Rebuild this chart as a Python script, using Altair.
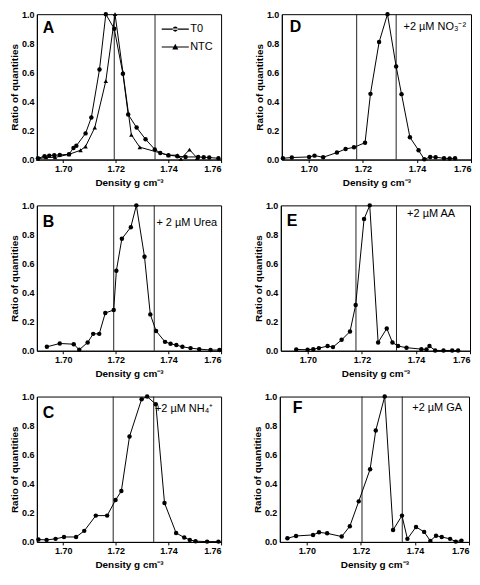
import altair as alt
import pandas as pd

# ---------------- data ----------------
X_DOMAIN = [1.69, 1.76]
X_TICKS = [1.70, 1.72, 1.74, 1.76]
Y_TICKS = [0.0, 0.2, 0.4, 0.6, 0.8, 1.0]

A_T0_X = [1.6904, 1.6929, 1.6947, 1.6966, 1.6987, 1.7022, 1.7039, 1.7050, 1.7085, 1.7107, 1.7138, 1.7162, 1.7194,
          1.7227, 1.7247, 1.7279, 1.7313, 1.7348, 1.7369, 1.7400, 1.7434, 1.7465, 1.7513, 1.7534, 1.7555, 1.7590]
A_T0_Y = [0.009, 0.023, 0.027, 0.030, 0.032, 0.036, 0.080, 0.095, 0.180, 0.290, 0.620, 1.000, 0.900,
          0.590, 0.310, 0.220, 0.140, 0.070, 0.045, 0.030, 0.023, 0.018, 0.018, 0.016, 0.014, 0.009]
A_NTC_X = [1.6904, 1.6935, 1.6969, 1.7022, 1.7066, 1.7085, 1.7120, 1.7162, 1.7197, 1.7227, 1.7259, 1.7291,
           1.7400, 1.7434, 1.7447, 1.7480, 1.7509]
A_NTC_Y = [0.005, 0.015, 0.015, 0.036, 0.064, 0.090, 0.220, 0.540, 1.000, 0.600, 0.170, 0.085,
           0.030, 0.030, 0.005, 0.068, 0.011]

B_X = [1.6938, 1.6987, 1.7040, 1.7061, 1.7093, 1.7114, 1.7137, 1.7160, 1.7192, 1.7202, 1.7223, 1.7257, 1.7278,
       1.7309, 1.7331, 1.7353, 1.7387, 1.7408, 1.7430, 1.7453, 1.7484, 1.7517, 1.7560, 1.7594]
B_Y = [0.027, 0.050, 0.045, 0.007, 0.057, 0.116, 0.116, 0.260, 0.280, 0.550, 0.770, 0.850, 1.000,
       0.646, 0.250, 0.136, 0.061, 0.048, 0.039, 0.027, 0.018, 0.011, 0.005, 0.005]

C_X = [1.6906, 1.6937, 1.6971, 1.7003, 1.7049, 1.7080, 1.7124, 1.7167, 1.7199, 1.7221, 1.7252, 1.7298, 1.7319,
       1.7352, 1.7385, 1.7429, 1.7460, 1.7481, 1.7503, 1.7547, 1.7590]
C_Y = [0.016, 0.014, 0.021, 0.034, 0.034, 0.076, 0.181, 0.181, 0.288, 0.350, 0.725, 0.982, 1.000,
       0.947, 0.268, 0.062, 0.030, 0.014, 0.005, 0.002, 0.002]

D_X = [1.6904, 1.6937, 1.7001, 1.7021, 1.7053, 1.7104, 1.7136, 1.7167, 1.7208, 1.7228, 1.7260, 1.7291, 1.7323,
       1.7343, 1.7374, 1.7406, 1.7427, 1.7449, 1.7469, 1.7500, 1.7521, 1.7541]
D_Y = [0.009, 0.014, 0.018, 0.027, 0.016, 0.048, 0.073, 0.084, 0.116, 0.452, 0.808, 1.000, 0.640,
       0.450, 0.153, 0.064, 0.002, 0.018, 0.016, 0.009, 0.007, 0.009]

E_X = [1.6957, 1.6999, 1.7020, 1.7041, 1.7073, 1.7093, 1.7125, 1.7156, 1.7177, 1.7208, 1.7229, 1.7260, 1.7292,
       1.7313, 1.7334, 1.7365, 1.7420, 1.7439, 1.7450, 1.7471, 1.7502, 1.7534, 1.7556]
E_Y = [0.009, 0.007, 0.011, 0.018, 0.032, 0.025, 0.075, 0.132, 0.315, 0.906, 1.000, 0.057, 0.153,
       0.057, 0.032, 0.021, 0.011, 0.009, 0.032, 0.002, 0.002, 0.002, 0.002]

F_X = [1.6928, 1.6960, 1.7023, 1.7045, 1.7075, 1.7129, 1.7159, 1.7192, 1.7234, 1.7255, 1.7288, 1.7319, 1.7352,
       1.7372, 1.7404, 1.7434, 1.7457, 1.7478, 1.7499, 1.7530, 1.7551, 1.7572]
F_Y = [0.025, 0.041, 0.048, 0.066, 0.059, 0.037, 0.108, 0.279, 0.500, 0.767, 1.000, 0.082, 0.181,
       0.021, 0.103, 0.069, 0.007, 0.043, 0.034, 0.021, 0.002, 0.009]

# density boundary lines drawn in each panel
LINES = {"A": [1.7194, 1.7349], "B": [1.7192, 1.7346], "C": [1.7190, 1.7344],
         "D": [1.7177, 1.7323], "E": [1.7178, 1.7328], "F": [1.7204, 1.7353]}
NOTES = {"A": "", "B": "+ 2 µM Urea", "C": "+2 µM NH₄⁺", "D": "+2 µM NO₃⁻²",
         "E": "+2 µM AA", "F": "+2 µM GA"}
SERIES = ["T0", "NTC"]

# ---------------- styling ----------------
FONT = "Liberation Sans"
LEFT_W, RIGHT_W, H = 185, 190, 146

# note placement (gap from right edge, baseline) and letter placement (x, baseline)
NOTE_POS = {"A": (0, 0), "B": (4, 21), "C": (8, 16), "D": (5, 16), "E": (15, 12), "F": (7, 15)}
LETTER_POS = {"A": (6, 19), "B": (6, 22), "C": (6, 22), "D": (8, 18), "E": (6, 21), "F": (13, 17)}

# legend symbols: a line segment with the marker in its middle (unit = 8 px)
CIRCLE_PATH = ("M-1.7,-0.07H1.7V0.07H-1.7Z"
               "M-0.32,0A0.32,0.32 0 1,0 0.32,0A0.32,0.32 0 1,0 -0.32,0Z")
TRI_PATH = "M-1.7,-0.07H1.7V0.07H-1.7ZM0,-0.42L0.38,0.3H-0.38Z"


def make_df(xs, ys, series):
    return pd.DataFrame({"density": xs, "ratio": ys, "series": series})


def panel(letter, df, width):
    x = alt.X("density:Q",
              scale=alt.Scale(domain=X_DOMAIN, nice=False, zero=False),
              axis=alt.Axis(values=X_TICKS, format=".2f", title="Density g cm⁻³"))
    y = alt.Y("ratio:Q",
              scale=alt.Scale(domain=[0, 1], nice=False),
              axis=alt.Axis(values=Y_TICKS, format=".1f", title="Ratio of quantities"))
    base = alt.Chart(df)
    line = base.mark_line(color="black", strokeWidth=1).encode(x=x, y=y, detail="series:N")
    pts = base.mark_point(filled=True, color="black", size=20, opacity=1).encode(
        x=x, y=y,
        shape=alt.Shape("series:N",
                        scale=alt.Scale(domain=SERIES, range=["circle", "triangle-up"]),
                        legend=None))
    rules = alt.Chart(pd.DataFrame({"density": LINES[letter]})).mark_rule(
        color="#222222", strokeWidth=1).encode(x=alt.X("density:Q"))
    lx, ly = LETTER_POS[letter]
    let = alt.Chart(pd.DataFrame({"t": [letter]})).mark_text(
        align="left", baseline="alphabetic", fontSize=16, fontWeight="bold", font=FONT
    ).encode(text="t:N", x=alt.value(lx), y=alt.value(ly))
    layers = [rules, line, pts, let]
    if NOTES[letter]:
        gap, ny = NOTE_POS[letter]
        note = alt.Chart(pd.DataFrame({"t": [NOTES[letter]]})).mark_text(
            align="right", baseline="alphabetic", fontSize=11, font=FONT
        ).encode(text="t:N", x=alt.value(width - gap), y=alt.value(ny))
        layers.append(note)
    if letter == "A":
        leg = base.mark_point(opacity=0, filled=True, color="black").encode(
            x=x, y=y,
            shape=alt.Shape("series:N",
                            scale=alt.Scale(domain=SERIES, range=[CIRCLE_PATH, TRI_PATH]),
                            legend=alt.Legend(title=None, orient="none", legendX=131, legendY=7,
                                              symbolSize=256, symbolFillColor="black",
                                              symbolStrokeColor="black", symbolStrokeWidth=0,
                                              symbolOpacity=1, labelFontSize=11, labelFont=FONT,
                                              labelColor="black", labelOffset=7, rowPadding=5)))
        layers.append(leg)
    ch = alt.layer(*layers).properties(width=width, height=H)
    if letter == "A":
        ch = ch.resolve_scale(shape="independent")
    return ch


dfA = pd.concat([make_df(A_T0_X, A_T0_Y, "T0"), make_df(A_NTC_X, A_NTC_Y, "NTC")])
pA = panel("A", dfA, LEFT_W)
pB = panel("B", make_df(B_X, B_Y, "T0"), LEFT_W)
pC = panel("C", make_df(C_X, C_Y, "T0"), LEFT_W)
pD = panel("D", make_df(D_X, D_Y, "T0"), RIGHT_W)
pE = panel("E", make_df(E_X, E_Y, "T0"), RIGHT_W)
pF = panel("F", make_df(F_X, F_Y, "T0"), RIGHT_W)

chart = alt.vconcat(
    alt.hconcat(pA, pD, spacing=29),
    alt.hconcat(pB, pE, spacing=29),
    alt.hconcat(pC, pF, spacing=29),
    spacing=12,
).properties(padding=0).configure(font=FONT).configure_view(
    stroke="black", strokeWidth=1
).configure_axis(
    grid=False, domainColor="black", tickColor="black", tickSize=3,
    labelFont=FONT, labelFontSize=9, labelFontWeight="bold", labelColor="black", labelPadding=2,
    titleFont=FONT, titleFontSize=10, titleFontWeight="bold", titleColor="black", titlePadding=4,
).configure_axisY(ticks=False, labelPadding=3, titlePadding=2)

chart.save("out.html", embed_options={"renderer": "svg", "actions": False})
